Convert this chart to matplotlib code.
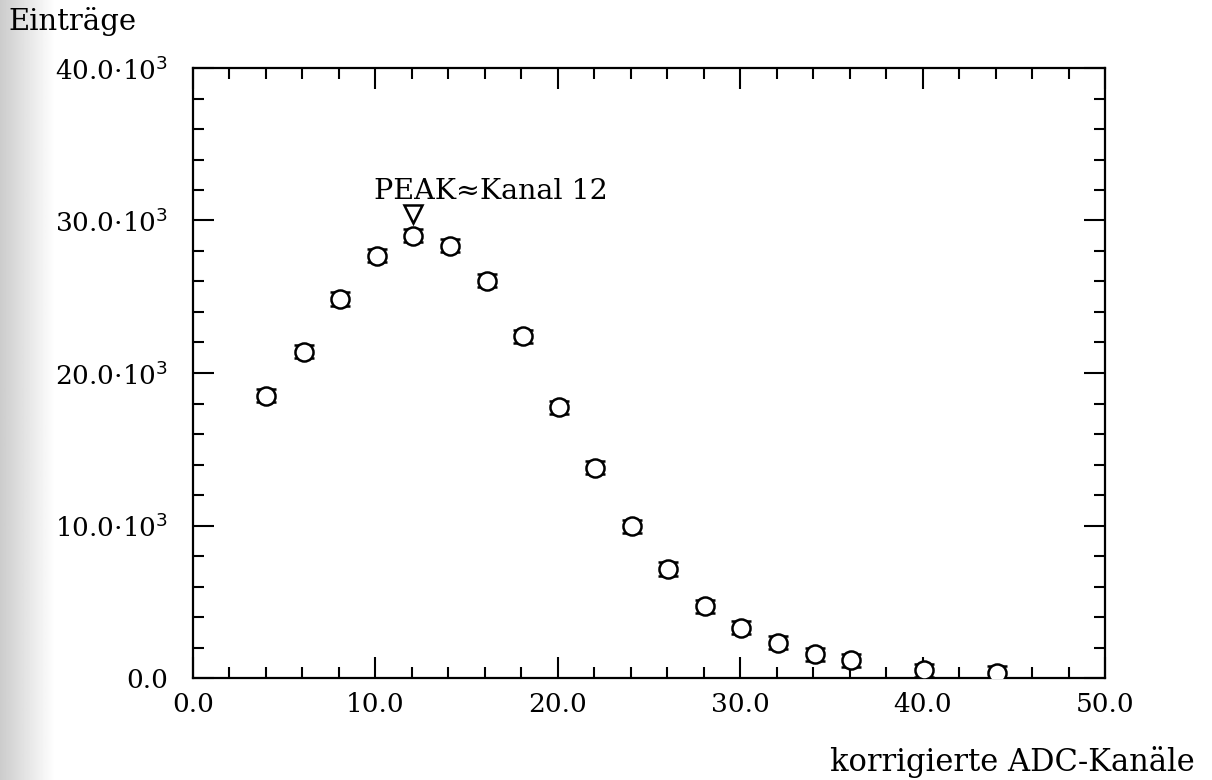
import matplotlib
matplotlib.use("Agg")
import matplotlib.pyplot as plt
import numpy as np
from matplotlib.ticker import MultipleLocator, FuncFormatter

# data (channel, entries)
channels = [4.0, 6.1, 8.05, 10.1, 12.05, 14.1, 16.1, 18.1, 20.05, 22.05,
            24.05, 26.05, 28.05, 30.05, 32.05, 34.1, 36.05, 40.1, 44.1]
entries = [18500, 21400, 24850, 27700, 29000, 28350, 26050, 22400, 17750, 13800,
           9950, 7150, 4700, 3300, 2300, 1550, 1150, 500, 350]
errors = [430] * len(entries)
peak_channel = 12.05
peak_marker_y = 30450
peak_label = "PEAK≈Kanal 12"
x_label = "korrigierte ADC-Kanäle"
y_label = "Einträge"

plt.rcParams['font.family'] = ['DejaVu Serif']
fig = plt.figure(figsize=(12.12, 7.8), dpi=100)

# scanned-page shading on the left edge
bg = fig.add_axes([0, 0, 55/1212, 1], zorder=-5)
grad = np.linspace(0.80, 1.0, 64)[None, :]
bg.imshow(grad, aspect='auto', cmap='gray', vmin=0, vmax=1, extent=[0, 1, 0, 1])
bg.axis('off')

ax = fig.add_axes([193/1212, 1-678/780, (1105-193)/1212, (678-68)/780])
ax.patch.set_alpha(0)

ax.errorbar(channels, entries, yerr=errors, fmt='o', ms=13, mfc='white', mec='black',
            mew=1.8, ecolor='black', elinewidth=1.2, capsize=7, capthick=1.8, zorder=3)

ax.plot([peak_channel], [peak_marker_y], marker='v', ms=13, mfc='white', mec='black',
        mew=1.8, ls='none', zorder=3)
ax.text(9.92, 31400, peak_label, ha='left', va='baseline', fontsize=20.5)

ax.set_xlim(0, 50)
ax.set_ylim(0, 40000)
ax.xaxis.set_major_locator(MultipleLocator(10))
ax.xaxis.set_minor_locator(MultipleLocator(2))
ax.yaxis.set_major_locator(MultipleLocator(10000))
ax.yaxis.set_minor_locator(MultipleLocator(2000))
ax.xaxis.set_major_formatter(FuncFormatter(lambda v, p: f"{v:.1f}"))
ax.yaxis.set_major_formatter(FuncFormatter(
    lambda v, p: "0.0" if v == 0 else f"{v/1000:.1f}·10$^3$"))
ax.tick_params(which='both', direction='in', top=True, right=True, width=1.5)
ax.tick_params(which='major', length=15, labelsize=19)
ax.tick_params(axis='y', which='major', pad=18)
ax.tick_params(axis='x', which='major', pad=10)
ax.tick_params(which='minor', length=8)
for s in ax.spines.values():
    s.set_linewidth(1.6)

fig.text(8/1212, 1-22/780, y_label, ha='left', va='center', fontsize=21)
fig.text(1195/1212, 1-762/780, x_label, ha='right', va='center', fontsize=22)

fig.savefig("out.png", dpi=100)
